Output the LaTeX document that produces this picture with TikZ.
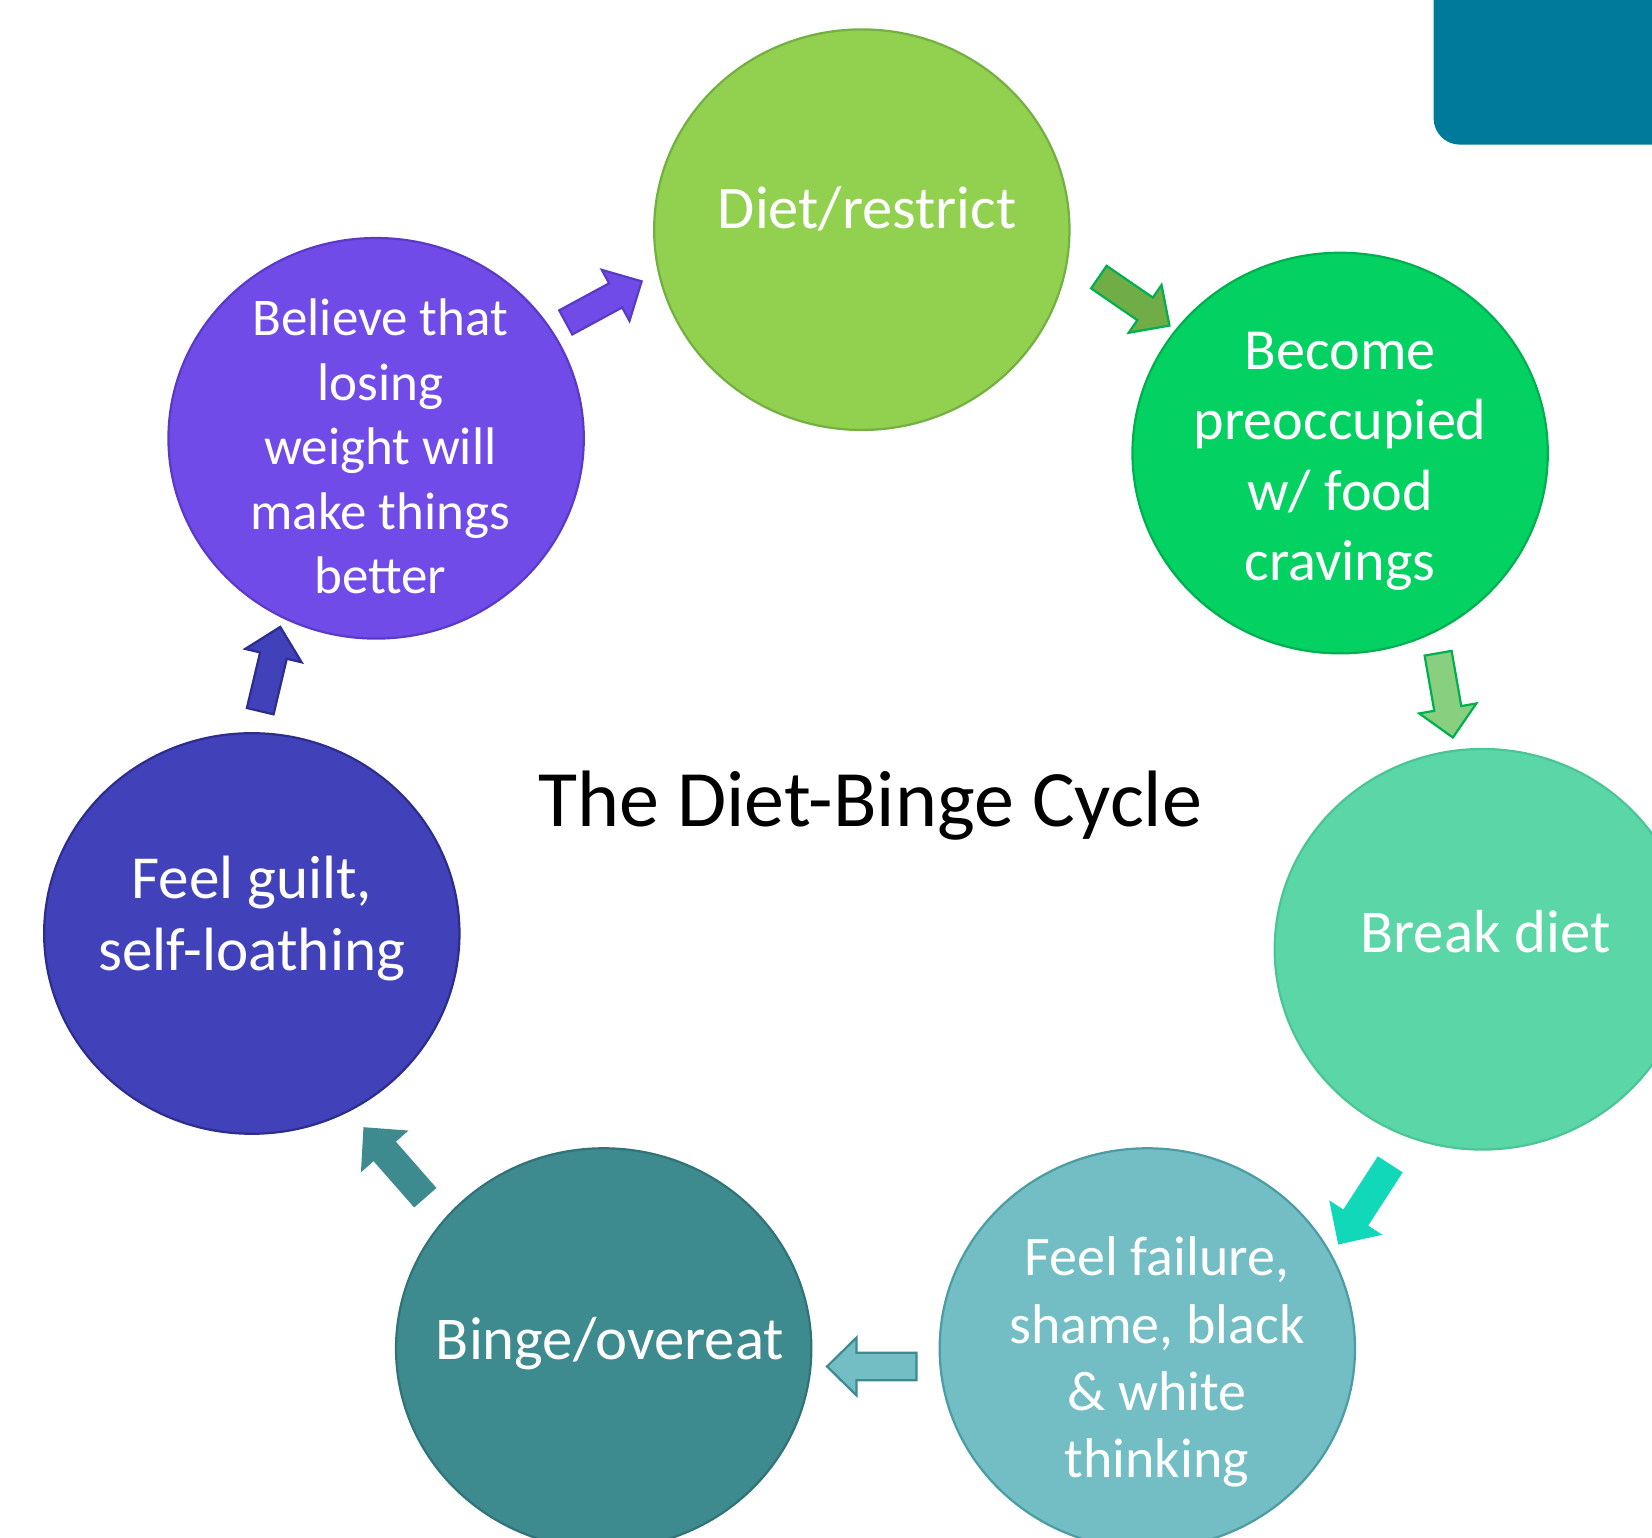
\documentclass[tikz,border=0pt]{standalone}
\usepackage{fontspec}
\setmainfont{Carlito}
\usetikzlibrary{shapes.geometric,calc}

\definecolor{dietGreen}{HTML}{92D050}
\definecolor{dietEdge}{HTML}{74B041}
\definecolor{craveGreen}{HTML}{03D162}
\definecolor{craveEdge}{HTML}{00B050}
\definecolor{breakMint}{HTML}{5BD6A7}
\definecolor{breakEdge}{HTML}{4CC596}
\definecolor{failTeal}{HTML}{72BEC4}
\definecolor{failEdge}{HTML}{4C9DA3}
\definecolor{bingeTeal}{HTML}{3D8A8F}
\definecolor{bingeEdge}{HTML}{317478}
\definecolor{guiltBlue}{HTML}{4142BA}
\definecolor{guiltEdge}{HTML}{2C2D8C}
\definecolor{believeViolet}{HTML}{704BE8}
\definecolor{believeEdge}{HTML}{5A3AC6}
\definecolor{oliveArrow}{HTML}{70AD47}
\definecolor{paleArrow}{HTML}{88D080}
\definecolor{aquaArrow}{HTML}{10D8B8}
\definecolor{tabBlue}{HTML}{007A9B}

% block arrow from tail #2 to tip #3
\newcommand{\blockarrow}[3]{%
  \coordinate (hb) at ($(#3)!2.8mm!(#2)$);
  \draw[flow, #1] ($(#2)!1.3mm!90:(#3)$) -- ($(hb)!1.3mm!-90:(#2)$) -- ($(hb)!2.75mm!-90:(#2)$)
    -- (#3) -- ($(hb)!2.75mm!90:(#2)$) -- ($(hb)!1.3mm!90:(#2)$) -- ($(#2)!1.3mm!-90:(#3)$) -- cycle;
}
% text block, moved right by #1/2 and up by #2
\newcommand{\nudge}[3]{\raisebox{#2}[\height][\depth]{\hspace*{#1}\begin{tabular}{@{}c@{}}#3\end{tabular}}}

\begin{document}
\begin{tikzpicture}
        [x=0.01cm, y=-0.01cm,
        stage/.style={ellipse, draw, line width=0.6pt, minimum width=3.94cm, minimum height=3.8cm, inner sep=-1cm, text=white},
        flow/.style={line width=0.6pt, line join=miter}]
        \clip (0,0) rectangle (1568,1459);

        \node[rectangle, fill=tabBlue, rounded corners=0.25cm, minimum width=3cm, minimum height=2cm, anchor=south west] (tab) at (1360,138) {};

        \node[stage, fill=dietGreen, draw=dietEdge, font=\fontsize{16.3}{19.8}\selectfont] (diet) at (818,218) {\nudge{1mm}{1.5mm}{Diet/restrict}};
        \node[stage, fill=craveGreen, draw=craveEdge, font=\fontsize{15.7}{19}\selectfont] (crave) at (1272,430) {\nudge{0mm}{-0.75mm}{Become\\preoccupied\\w/ food\\cravings}};
        \node[stage, fill=breakMint, draw=breakEdge, font=\fontsize{16.4}{19.8}\selectfont] (break) at (1407,901) {\nudge{0.6mm}{1.1mm}{Break diet}};
        \node[stage, fill=failTeal, draw=failEdge, font=\fontsize{15.1}{18.2}\selectfont] (fail) at (1089,1280) {\nudge{1.8mm}{-1.4mm}{Feel failure,\\shame, black\\\& white\\thinking}};
        \node[stage, fill=bingeTeal, draw=bingeEdge, font=\fontsize{16.4}{19.8}\selectfont] (binge) at (573,1280) {\nudge{1.2mm}{0.4mm}{Binge/overeat}};
        \node[stage, fill=guiltBlue, draw=guiltEdge, font=\fontsize{16.5}{19.4}\selectfont] (guilt) at (239,886) {\nudge{0mm}{1.3mm}{Feel guilt,\\self-loathing}};
        \node[stage, fill=believeViolet, draw=believeEdge, font=\fontsize{14.3}{17.4}\selectfont] (believe) at (357,416) {\nudge{0.8mm}{-1.3mm}{Believe that\\losing\\weight will\\make things\\better}};

        \node[font=\fontsize{21.6}{26}\selectfont] (title) at (826,765) {The Diet-Binge Cycle};

        % arrow ends
        \coordinate (t1) at (1043,263);  \coordinate (h1) at (1110,309);
        \coordinate (t2) at (1365,620);  \coordinate (h2) at (1379,700);
        \coordinate (t3) at (1319,1106); \coordinate (h3) at (1271,1180);
        \coordinate (t4) at (870,1297);  \coordinate (h4) at (785,1297);
        \coordinate (t5) at (403,1136);  \coordinate (h5) at (346,1071);
        \coordinate (t6) at (247,675);   \coordinate (h6) at (266,595);
        \coordinate (t7) at (537,306);   \coordinate (h7) at (609,267);

        \blockarrow{fill=oliveArrow, draw=craveEdge}{t1}{h1}
        \blockarrow{fill=paleArrow, draw=craveEdge}{t2}{h2}
        \blockarrow{fill=aquaArrow, draw=aquaArrow}{t3}{h3}
        \blockarrow{fill=failTeal, draw=bingeTeal}{t4}{h4}
        \blockarrow{fill=bingeTeal, draw=bingeTeal}{t5}{h5}
        \blockarrow{fill=guiltBlue, draw=guiltEdge}{t6}{h6}
        \blockarrow{fill=believeViolet, draw=believeEdge}{t7}{h7}

    \end{tikzpicture}
\end{document}
